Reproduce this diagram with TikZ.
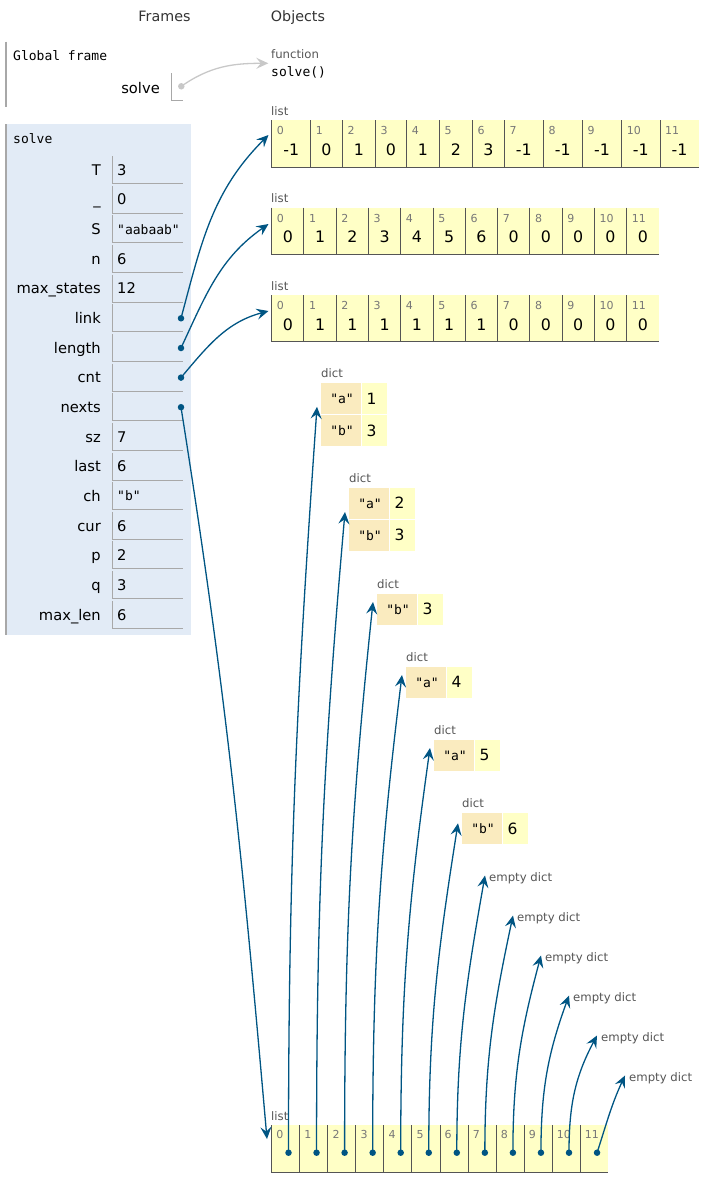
\documentclass[tikz,border=0pt]{standalone}
\usepackage{fontspec}
\setmainfont{DejaVu Sans}
\setmonofont{DejaVu Sans Mono}
\usetikzlibrary{arrows.meta,positioning}
\definecolor{frameblue}{HTML}{E2EBF6}
\definecolor{cellyellow}{HTML}{FFFFC6}
\definecolor{keytan}{HTML}{FAEBBF}
\definecolor{arrowblue}{HTML}{005583}
\definecolor{labelgrey}{HTML}{555555}
\definecolor{idxgrey}{HTML}{777777}
\definecolor{boxgrey}{HTML}{A8A8A8}
\definecolor{cellborder}{HTML}{555555}
\definecolor{fngrey}{HTML}{C8C8C8}
\begin{document}
\begin{tikzpicture}[x=1pt,y=1pt,
    hdr/.style={inner sep=0pt, text=black!80, text height=10.4pt, text depth=0pt, font=\fontsize{14.3}{16}\selectfont},
    varname/.style={anchor=east, inner sep=0pt, text height=10.6pt, text depth=0pt, font=\fontsize{14.7}{16}\selectfont},
    varval/.style={anchor=west, inner sep=0pt, text height=10.6pt, text depth=0pt, font=\fontsize{14.7}{16}\selectfont},
    varstr/.style={anchor=west, inner sep=0pt, text height=9.5pt, text depth=0pt, font=\ttfamily\fontsize{13}{15}\selectfont},
    monotext/.style={anchor=west, inner sep=0pt, text height=9.5pt, text depth=0pt, font=\ttfamily\fontsize{13}{15}\selectfont},
    typelbl/.style={anchor=west, inner sep=0pt, text=labelgrey, text height=8.4pt, text depth=0pt, font=\fontsize{11.7}{13}\selectfont},
    idx/.style={anchor=west, inner sep=0pt, text=idxgrey, text height=8pt, text depth=0pt, font=\fontsize{11}{12}\selectfont},
    cellval/.style={inner sep=0pt, text height=11.5pt, text depth=0pt, font=\fontsize{15.8}{17}\selectfont},
    keytext/.style={inner sep=0pt, text height=9.5pt, text depth=0pt, font=\ttfamily\fontsize{13}{14}\selectfont},
    dictval/.style={anchor=west, inner sep=0pt, text height=11.2pt, text depth=0pt, font=\fontsize{15.5}{17}\selectfont},
    boxline/.style={draw=boxgrey, line width=1pt},
    cellline/.style={draw=cellborder, line width=1pt},
    ptrdot/.style={circle, fill=arrowblue, inner sep=0pt, minimum size=6.5pt},
    fndot/.style={circle, fill=fngrey, inner sep=0pt, minimum size=6.5pt},
    ref/.style={draw=arrowblue, line width=1.3pt, -{Stealth[length=12pt,width=11pt,inset=4.5pt]}},
    fnref/.style={draw=fngrey, line width=1.3pt, -{Stealth[length=12pt,width=11pt,inset=4.5pt]}},
  ]
  \useasboundingbox (0,0) rectangle (726,-1197);

  % headers
  \node[hdr] (frames-hdr) at (164.5,-16) {Frames};
  \node[hdr] (objects-hdr) at (298,-16) {Objects};

  % global frame
  \draw[boxline, line width=1.4pt] (6,-41.7) -- (6,-106.7);
  \node[monotext] (global-title) at (13,-56) {Global frame};
  \node[varname] (global-solve) at (160,-88) {solve};
  \draw[boxline] (171.7,-73) -- (171.7,-100) -- (183,-100);
  \node[fndot] (solve-dot) at (181.3,-86.3) {};

  % function object
  \node[typelbl] (fn-lbl) at (271,-54) {function};
  \node[monotext] (fn-name) at (271,-72) {solve()};
  \coordinate (fn-in) at (268.3,-63.3);
  \draw[fnref] (solve-dot.center) to[out=35,in=180] (fn-in);

  % solve frame
  \fill[frameblue] (6,-124) rectangle (191,-635);
  \draw[boxline, line width=1.4pt] (6,-124) -- (6,-635);
  \node[monotext] (solve-title) at (13,-139) {solve};
  \foreach \vname/\vval/\vsty [count=\i from 0] in {T/3/varval, \_/0/varval,
      S/"aabaab"/varstr, n/6/varval, max\_states/12/varval, link//varval,
      length//varval, cnt//varval, nexts//varval, sz/7/varval, last/6/varval,
      ch/"b"/varstr, cur/6/varval, p/2/varval, q/3/varval, max\_len/6/varval}{
    \pgfmathsetmacro\y{170+29.65*\i}
    \node[varname] (var\i) at (101,-\y) {\vname};
    \draw[boxline] (112.7,-\y+14) -- (112.7,-\y-13.5) -- (183,-\y-13.5);
    \node[\vsty] (val\i) at (117,-\y) {\vval};
  }
  \node[ptrdot] (link-dot) at (181,-318.3) {};
  \node[ptrdot] (length-dot) at (181,-348) {};
  \node[ptrdot] (cnt-dot) at (181,-377.6) {};
  \node[ptrdot] (nexts-dot) at (181,-407.2) {};

  % link list
  \node[typelbl] (link-lbl) at (271,-111) {list};
  \foreach \l/\r/\v [count=\i from 0] in {271.7/310.7/-1, 310.7/342.3/0,
      342.3/375.3/1, 375.3/406.7/0, 406.7/439.3/1, 439.3/472.3/2, 472.3/504.3/3,
      504.3/543.3/-1, 543.3/582.3/-1, 582.3/621.7/-1, 621.7/660/-1, 660/699/-1}{
    \fill[cellyellow] (\l,-120) rectangle (\r,-167);
    \draw[cellline] (\l,-120) -- (\l,-167) -- (\r,-167);
    \node[idx] (link-i\i) at (\l+5,-130.8) {\i};
    \node[cellval] (link-v\i) at ({(\l+\r)/2},-150) {\v};
  }
  \coordinate (link-in) at (268.5,-135);

  % length list
  \node[typelbl] (length-lbl) at (271,-198.7) {list};
  \foreach \v [count=\i from 0] in {0,1,2,3,4,5,6,0,0,0,0,0}{
    \pgfmathsetmacro\l{271.7+32.27*\i}
    \pgfmathsetmacro\r{\l+32.27}
    \fill[cellyellow] (\l,-207.7) rectangle (\r,-254.3);
    \draw[cellline] (\l,-207.7) -- (\l,-254.3) -- (\r,-254.3);
    \node[idx] (length-i\i) at (\l+5,-218) {\i};
    \node[cellval] (length-v\i) at ({\l+16.1},-237.2) {\v};
  }
  \coordinate (length-in) at (268.5,-224);

  % cnt list
  \node[typelbl] (cnt-lbl) at (271,-286) {list};
  \foreach \v [count=\i from 0] in {0,1,1,1,1,1,1,0,0,0,0,0}{
    \pgfmathsetmacro\l{271.7+32.27*\i}
    \pgfmathsetmacro\r{\l+32.27}
    \fill[cellyellow] (\l,-295) rectangle (\r,-341);
    \draw[cellline] (\l,-295) -- (\l,-341) -- (\r,-341);
    \node[idx] (cnt-i\i) at (\l+5,-305.3) {\i};
    \node[cellval] (cnt-v\i) at ({\l+16.1},-324.5) {\v};
  }
  \coordinate (cnt-in) at (268.5,-311);

  % dicts
  \foreach \x/\t/\r/\key/\val [count=\j from 0] in {321/383.3/0/a/1, 321/383.3/1/b/3,
      349/488/0/a/2, 349/488/1/b/3, 377/594/0/b/3, 406/667/0/a/4,
      434/740/0/a/5, 462/813.3/0/b/6}{
    \pgfmathsetmacro\rt{\t+32*\r}
    \fill[keytan] (\x,-\rt) rectangle (\x+39.5,-\rt-30.5);
    \fill[cellyellow] (\x+41,-\rt) rectangle (\x+65.5,-\rt-30.5);
    \node[keytext] (dkey\j) at (\x+21,-\rt-15.25) {"\key"};
    \node[dictval] (dval\j) at (\x+45.5,-\rt-15.25) {\val};
  }
  \foreach \x/\t/\off [count=\j from 0] in {321/383.3/23.5, 349/488/24, 377/594/8,
      406/667/8, 434/740/8, 462/813.3/10}{
    \node[typelbl] (dict\j) at (\x,-\t+10) {dict};
    \coordinate (dict\j-in) at (\x-4,-\t-\off);
  }
  \foreach \j in {0,...,5}{
    \node[typelbl] (empty\j) at (489+28*\j,-877-40*\j) {empty dict};
    \coordinate (empty\j-in) at ([xshift=-4pt,yshift=1.5pt]empty\j.west);
  }

  % nexts list
  \node[typelbl] (nexts-lbl) at (271,-1116) {list};
  \foreach \i in {0,...,11}{
    \pgfmathsetmacro\l{271.7+28.05*\i}
    \pgfmathsetmacro\r{\l+28.05}
    \fill[cellyellow] (\l,-1125) rectangle (\r,-1172);
    \draw[cellline] (\l,-1125) -- (\l,-1172) -- (\r,-1172);
    \node[idx] (nexts-i\i) at (\l+4.5,-1134.7) {\i};
  }
  \foreach \i in {0,...,11}{
    \node[ptrdot] (nexts-d\i) at (288.5+28.05*\i,-1152.7) {};
  }
  \coordinate (nexts-in) at (267,-1139);

  % references
  \draw[ref] (link-dot.center) to[out=75,in=-135] (link-in);
  \draw[ref] (length-dot.center) to[out=65,in=-145] (length-in);
  \draw[ref] (cnt-dot.center) to[out=50,in=-165] (cnt-in);
  \draw[ref] (nexts-dot.center) to[out=-81,in=95] (nexts-in);
  \foreach \i/\tgt/\oa/\ia in {0/dict0-in/90/-94, 1/dict1-in/90/-95,
      2/dict2-in/90/-96, 3/dict3-in/90/-97, 4/dict4-in/90/-98,
      5/dict5-in/90/-99, 6/empty0-in/90/-100, 7/empty1-in/90/-102,
      8/empty2-in/90/-105, 9/empty3-in/90/-110, 10/empty4-in/90/-118,
      11/empty5-in/72/-115}{
    \draw[ref] (nexts-d\i.center) to[out=\oa,in=\ia] (\tgt);
  }
\end{tikzpicture}
\end{document}
